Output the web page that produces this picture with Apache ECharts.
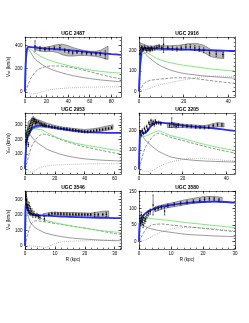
<!DOCTYPE html>
<html><head><meta charset="utf-8">
<script src="https://cdn.jsdelivr.net/npm/echarts@6/dist/echarts.min.js"></script>
<style>html,body{margin:0;padding:0;background:#fff}#c{width:249px;height:323px}</style>
</head><body><div id="c"></div>
<script>
// ---------------- DATA ----------------
// UGC 2487
const g1Name = 'UGC 2487';
const g1R     = [0, 0.5, 1, 2, 3, 5, 8, 12, 16, 20, 25, 30, 40, 50, 60, 70, 80, 89];
const g1Tot   = [0, 200, 300, 375, 390, 388, 385, 380, 377, 374, 372, 369, 361, 352, 343, 335, 327, 320];
const g1Disk  = [0, 120, 250, 350, 385, 372, 348, 320, 300, 284, 266, 252, 227, 207, 190, 177, 168, 162];
const g1Bulge = [0, 250, 330, 378, 375, 345, 300, 262, 235, 213, 192, 176, 150, 130, 115, 103, 94, 87];
const g1Halo  = [0, 3, 12, 38, 65, 110, 155, 192, 210, 220, 224, 224, 215, 198, 175, 150, 128, 112];
const g1Gas   = [0, 0, -2, -5, -8, -12, -17, -12, 0, 12, 20, 26, 33, 38, 40, 42, 43, 43];
const g1CyanR = [0, 0.3, 0.6, 1.0];
const g1CyanV = [0, 180, 300, 350];
const g1PtsR  = [9.3, 13.9, 18.5, 22.5, 27.2, 32.4, 36.8, 40.5, 44.2, 48.2, 52.8, 57.1, 61.5, 65.8, 69.8, 74.4];
const g1PtsV  = [397, 374, 368, 374, 379, 382, 359, 350, 338, 344, 338, 335, 329, 329, 329, 321];
const g1PtsE  = [45, 20, 15, 15, 15, 20, 15, 15, 12, 12, 12, 12, 12, 12, 15, 35];
const g1BandR = [9, 15, 20, 25, 30, 35, 40, 45, 50, 55, 60, 65, 70, 75, 77];
const g1BandLo= [365, 352, 350, 350, 340, 320, 310, 310, 315, 315, 312, 308, 298, 285, 280];
const g1BandHi= [395, 385, 388, 398, 410, 412, 400, 382, 368, 358, 352, 350, 360, 385, 395];
const g1XTicks = [0, 20, 40, 60, 80];
const g1YTicks = [0, 200, 400];

// UGC 2916
const g2Name = 'UGC 2916';
const g2R     = [0, 0.5, 1, 1.5, 2, 3, 5, 8, 12, 16, 20, 25, 30, 35, 40, 43];
const g2Tot   = [0, 120, 180, 200, 205, 210, 210, 209, 207, 206, 204, 202, 201, 199, 197, 196];
const g2Disk  = [0, 90, 150, 175, 185, 190, 180, 160, 145, 135, 127, 120, 112, 106, 101, 99];
const g2Bulge = [0, 150, 195, 200, 195, 180, 160, 135, 112, 97, 87, 80, 74, 70, 66, 64];
const g2Halo  = [0, 6, 15, 25, 35, 45, 53, 58, 62, 66, 66, 62, 55, 48, 42, 39];
const g2Gas   = [0, 1, 2, 3, 5, 8, 15, 28, 38, 47, 55, 65, 72, 74, 73, 72];
const g2CyanR = [0, 0.3, 0.6, 1.0];
const g2CyanV = [0, 110, 170, 190];
const g2PtsR  = [0.5, 0.8, 1.2, 1.6, 2.0, 2.5, 3.0, 3.5, 4.0, 4.5, 5.0, 5.5, 6.0, 7.0, 8.0, 9.0, 10.2, 11, 12.9, 15, 17, 18.9, 21, 23, 25, 27, 29, 31.6, 34.6, 37.6];
const g2PtsV  = [185, 205, 215, 210, 205, 215, 208, 200, 210, 205, 200, 212, 205, 210, 215, 220, 213, 229, 213, 210, 206, 211, 216, 216, 211, 206, 200, 187, 182, 179];
const g2PtsE  = [8, 8, 8, 8, 8, 8, 8, 8, 8, 8, 8, 8, 8, 8, 8, 8, 8, 40, 8, 10, 10, 10, 12, 12, 12, 12, 12, 12, 12, 12];
const g2BandR = [0.5, 2, 4, 6, 8, 10, 14, 18, 22, 26, 29, 32, 35, 38];
const g2BandLo= [195, 200, 198, 200, 202, 200, 200, 200, 203, 200, 190, 170, 162, 160];
const g2BandHi= [235, 230, 222, 220, 225, 222, 222, 225, 232, 233, 225, 205, 198, 196];
const g2XTicks = [0, 20, 40];
const g2YTicks = [0, 100, 200];

// UGC 2953
const g3Name = 'UGC 2953';
const g3R     = [0, 0.5, 1, 2, 3, 5, 8, 10, 12, 15, 20, 25, 30, 35, 40, 50, 60, 64.3];
const g3Tot   = [0, 100, 170, 225, 250, 278, 292, 295, 293, 289, 280, 272, 264, 258, 252, 247, 245, 245];
const g3Disk  = [0, 120, 200, 255, 270, 272, 270, 268, 262, 245, 220, 200, 185, 172, 162, 145, 128, 122];
const g3Bulge = [0, 180, 240, 255, 240, 210, 180, 165, 152, 132, 112, 96, 84, 75, 68, 60, 55, 53];
const g3Halo  = [0, 12, 30, 70, 110, 165, 210, 228, 236, 232, 215, 195, 178, 163, 150, 128, 108, 102];
const g3Gas   = [0, -5, -10, -15, -18, -20, -3, 8, 15, 20, 26, 28, 30, 31, 33, 35, 35, 35];
const g3CyanR = [0, 0.3, 0.6, 1.0];
const g3CyanV = [0, 120, 200, 240];
const g3PtsR  = [0.5, 0.8, 1.0, 1.3, 1.6, 2.0, 2.3, 2.7, 3.0, 3.4, 3.8, 4.2, 4.6, 5.0, 5.5, 6.0, 6.5, 7.0, 7.5, 8.0, 9.0, 10, 11, 12, 13, 14,
                 16, 18, 20, 22, 24, 26, 28, 30, 32, 34, 36, 38, 40, 42, 44, 46, 48, 50, 52, 54, 56, 58];
const g3PtsV  = [180, 230, 200, 250, 215, 270, 165, 240, 290, 260, 310, 280, 330, 300, 340, 320, 335, 310, 325, 315, 320, 310, 305, 300, 298, 295,
                 290, 285, 282, 278, 275, 272, 270, 268, 265, 262, 258, 255, 253, 252, 255, 258, 262, 265, 268, 272, 275, 280];
const g3PtsE  = [15, 15, 15, 15, 15, 15, 15, 15, 15, 15, 15, 15, 15, 15, 15, 12, 12, 12, 12, 10, 10, 10, 10, 10, 10, 10,
                 8, 8, 8, 8, 8, 8, 8, 8, 8, 8, 8, 8, 8, 8, 8, 8, 8, 8, 8, 8, 8, 8];
const g3BandR = [2, 5, 10, 15, 20, 25, 30, 35, 40, 45, 50, 55, 59];
const g3BandLo= [220, 270, 285, 280, 272, 265, 258, 250, 245, 248, 255, 262, 270];
const g3BandHi= [320, 345, 330, 310, 295, 285, 278, 272, 268, 272, 280, 292, 300];
const g3XTicks = [0, 20, 40, 60];
const g3YTicks = [0, 100, 200, 300];

// UGC 3205
const g4Name = 'UGC 3205';
const g4R     = [0, 0.3, 0.6, 1, 2, 3, 4, 5, 6, 7, 8, 9, 12, 15, 20, 25, 30, 35, 40, 44];
const g4Tot   = [0, 150, 195, 195, 185, 188, 200, 215, 228, 236, 240, 241, 238, 234, 226, 220, 216, 210, 203, 198];
const g4Disk  = [0, 90, 140, 165, 168, 171, 175, 180, 185, 190, 195, 197, 185, 172, 158, 143, 128, 115, 104, 96];
const g4Bulge = [0, 160, 185, 183, 165, 150, 138, 128, 118, 108, 100, 92, 75, 62, 52, 46, 42, 40, 38, 37];
const g4Halo  = [0, 10, 25, 40, 85, 115, 135, 150, 165, 175, 183, 185, 175, 163, 148, 133, 118, 104, 92, 83];
const g4Gas   = [0, -3, -6, -8, -10, -11, -12, -10, -8, -2, 5, 12, 28, 38, 50, 56, 55, 50, 45, 42];
const g4CyanR = [0, 0.2, 0.4, 0.6];
const g4CyanV = [0, 100, 170, 195];
const g4PtsR  = [0.5, 1, 1.5, 2, 2.5, 3, 3.5, 4, 4.5, 5, 5.5, 6, 6.5, 7, 7.5, 8, 9, 10,
                 14, 15, 16, 17, 18, 20, 22, 24, 26, 28, 30, 32, 34, 36, 38];
const g4PtsV  = [190, 175, 200, 185, 210, 195, 220, 205, 240, 230, 250, 235, 245, 230, 248, 238, 240, 235,
                 225, 240, 228, 222, 226, 224, 222, 221, 218, 216, 215, 217, 225, 230, 228];
const g4PtsE  = [8, 8, 8, 8, 8, 8, 8, 8, 8, 8, 8, 8, 8, 8, 8, 8, 8, 8,
                 10, 25, 10, 10, 10, 8, 8, 8, 8, 8, 8, 8, 8, 8, 8];
const g4BandR = [13, 16, 20, 25, 30, 33, 36, 39];
const g4BandLo= [215, 215, 215, 212, 210, 215, 220, 218];
const g4BandHi= [238, 240, 232, 228, 225, 232, 240, 238];
const g4XTicks = [0, 20, 40];
const g4YTicks = [0, 100, 200];

// UGC 3546
const g5Name = 'UGC 3546';
const g5R     = [0, 0.1, 0.2, 0.3, 0.5, 0.7, 1, 1.5, 2, 3, 4, 5, 6, 7, 8, 10, 12, 15, 20, 25, 30, 32.1];
const g5Tot   = [0, 200, 250, 270, 265, 248, 230, 212, 205, 200, 199, 198, 197, 196, 195, 192, 190, 188, 185, 182, 180, 179];
const g5Disk  = [0, 60, 110, 150, 200, 222, 235, 225, 215, 200, 190, 180, 172, 165, 160, 150, 142, 130, 115, 100, 90, 86];
const g5Bulge = [0, 150, 230, 250, 255, 235, 200, 165, 145, 125, 110, 100, 90, 82, 77, 68, 61, 52, 44, 38, 34, 33];
const g5Halo  = [0, 5, 12, 20, 40, 60, 80, 115, 140, 160, 162, 160, 157, 155, 152, 145, 140, 130, 115, 98, 80, 74];
const g5Gas   = [0, 0, 0, 0, 0, 0, 0, 0, 0, -2, -3, -5, -7, -10, -2, 15, 25, 30, 33, 35, 37, 37];
const g5CyanR = [0, 0.1, 0.2, 0.4];
const g5CyanV = [0, 180, 280, 300];
const g5PtsR  = [0.2, 0.3, 0.4, 0.5, 0.6, 0.8, 1.0, 1.2, 1.4, 1.6, 1.8, 2.0, 2.3, 2.6, 3.0, 3.5, 4.0, 4.5, 5.0, 6.5,
                 8, 9, 10, 11, 12, 13, 14, 15, 16, 17, 18, 19, 20, 21, 22, 23.3, 24.5, 26, 27.2];
const g5PtsV  = [300, 330, 320, 270, 290, 250, 265, 230, 260, 215, 240, 210, 225, 200, 210, 195, 200, 190, 185, 176,
                 205, 210, 210, 208, 207, 206, 206, 205, 205, 204, 204, 203, 203, 202, 202, 202, 202, 203, 204];
const g5PtsE  = [25, 25, 25, 25, 20, 20, 20, 20, 20, 15, 15, 15, 15, 15, 15, 12, 12, 12, 12, 15,
                 8, 8, 8, 8, 8, 8, 8, 8, 8, 8, 8, 8, 8, 8, 8, 14, 8, 8, 14];
const g5BandR = [6, 8, 10, 14, 18, 22, 24, 26, 28];
const g5BandLo= [190, 198, 200, 198, 195, 193, 190, 188, 188];
const g5BandHi= [208, 215, 218, 216, 214, 212, 218, 224, 226];
const g5XTicks = [0, 10, 20, 30];
const g5YTicks = [0, 100, 200, 300];

// UGC 3580
const g6Name = 'UGC 3580';
const g6R     = [0, 0.2, 0.4, 0.7, 1, 1.5, 2, 3, 4, 5, 7, 10, 13, 16, 20, 24, 27, 30];
const g6Tot   = [0, 55, 62, 68, 75, 80, 85, 92, 96, 100, 105, 110, 114, 117, 119, 120, 119, 117];
const g6Disk  = [0, 25, 45, 62, 68, 71, 71, 70, 69, 68, 66, 63, 59, 56, 52, 48, 45, 42];
const g6Bulge = [0, 55, 60, 57, 53, 48, 45, 41, 38, 36, 32, 28, 24, 21, 19, 17, 16, 15];
const g6Halo  = [0, 3, 7, 13, 20, 28, 35, 45, 50, 52, 53, 50, 47, 44, 40, 36, 33, 30];
const g6Gas   = [0, 0, 1, 2, 3, 4, 5, 10, 15, 20, 29, 38, 42, 43, 41, 38, 35, 33];
const g6CyanR = [0, 0.1, 0.2, 0.3];
const g6CyanV = [0, 30, 50, 58];
const g6PtsR  = [0.3, 0.5, 0.7, 0.9, 1.1, 1.3, 1.5, 1.8, 2.1, 2.5, 3.0, 3.5, 4.4, 8,
                 5, 6, 7, 9, 11, 13, 15, 17, 19, 20.5, 22, 23.5, 25];
const g6PtsV  = [70, 55, 80, 60, 65, 50, 72, 62, 68, 80, 85, 90, 110, 92,
                 97, 100, 103, 108, 112, 115, 118, 121, 124, 127, 129, 128, 125];
const g6PtsE  = [8, 8, 8, 8, 8, 8, 8, 8, 8, 8, 8, 8, 30, 12,
                 5, 5, 5, 5, 5, 5, 5, 5, 5, 5, 5, 5, 5];
const g6BandR = [5, 8, 11, 14, 17, 20, 23, 26];
const g6BandLo= [90, 100, 105, 110, 115, 118, 120, 118];
const g6BandHi= [105, 112, 118, 125, 130, 135, 136, 133];
const g6XTicks = [0, 10, 20, 30];
const g6YTicks = [0, 50, 100, 150];

// ---------------- LAYOUT / STYLE ----------------
const FONT = '"Liberation Sans", Arial, Helvetica, sans-serif';
const panels = [
  {t:g1Name, R:g1R, tot:g1Tot, disk:g1Disk, bulge:g1Bulge, halo:g1Halo, gas:g1Gas, cR:g1CyanR, cV:g1CyanV, pR:g1PtsR, pV:g1PtsV, pE:g1PtsE, bR:g1BandR, bLo:g1BandLo, bHi:g1BandHi, xT:g1XTicks, yT:g1YTicks,
   xr:[0,89], yr:[-45,475], xs:5, ys:50, box:{left:25, top:37, width:96, height:60}, yName:true, xName:false},
  {t:g2Name, R:g2R, tot:g2Tot, disk:g2Disk, bulge:g2Bulge, halo:g2Halo, gas:g2Gas, cR:g2CyanR, cV:g2CyanV, pR:g2PtsR, pV:g2PtsV, pE:g2PtsE, bR:g2BandR, bLo:g2BandLo, bHi:g2BandHi, xT:g2XTicks, yT:g2YTicks,
   xr:[0,43], yr:[-28,265], xs:5, ys:20, box:{left:139, top:37, width:96, height:60}, yName:false, xName:false},
  {t:g3Name, R:g3R, tot:g3Tot, disk:g3Disk, bulge:g3Bulge, halo:g3Halo, gas:g3Gas, cR:g3CyanR, cV:g3CyanV, pR:g3PtsR, pV:g3PtsV, pE:g3PtsE, bR:g3BandR, bLo:g3BandLo, bHi:g3BandHi, xT:g3XTicks, yT:g3YTicks,
   xr:[0,64.3], yr:[-35,380], xs:5, ys:20, box:{left:25, top:113, width:96, height:61}, yName:true, xName:false},
  {t:g4Name, R:g4R, tot:g4Tot, disk:g4Disk, bulge:g4Bulge, halo:g4Halo, gas:g4Gas, cR:g4CyanR, cV:g4CyanV, pR:g4PtsR, pV:g4PtsV, pE:g4PtsE, bR:g4BandR, bLo:g4BandLo, bHi:g4BandHi, xT:g4XTicks, yT:g4YTicks,
   xr:[0,44], yr:[-25,290], xs:5, ys:20, box:{left:139, top:113, width:96, height:61}, yName:false, xName:false},
  {t:g5Name, R:g5R, tot:g5Tot, disk:g5Disk, bulge:g5Bulge, halo:g5Halo, gas:g5Gas, cR:g5CyanR, cV:g5CyanV, pR:g5PtsR, pV:g5PtsV, pE:g5PtsE, bR:g5BandR, bLo:g5BandLo, bHi:g5BandHi, xT:g5XTicks, yT:g5YTicks,
   xr:[0,32.1], yr:[-20,355], xs:2, ys:20, box:{left:25, top:191, width:96, height:58}, yName:true, xName:true},
  {t:g6Name, R:g6R, tot:g6Tot, disk:g6Disk, bulge:g6Bulge, halo:g6Halo, gas:g6Gas, cR:g6CyanR, cV:g6CyanV, pR:g6PtsR, pV:g6PtsV, pE:g6PtsE, bR:g6BandR, bLo:g6BandLo, bHi:g6BandHi, xT:g6XTicks, yT:g6YTicks,
   xr:[0,30], yr:[-22,152], xs:2, ys:10, box:{left:139, top:191, width:96, height:58}, yName:false, xName:true},
];

function steps(min, max, st) {
  const out = [];
  for (let v = Math.ceil(min / st) * st; v <= max + 1e-9; v += st) out.push(+v.toFixed(6));
  return out;
}
const AX = {color:'#000', width:0.6};
function axisSet(gi, dim, p) {
  const rng = dim === 'x' ? p.xr : p.yr;
  const maj = dim === 'x' ? p.xT : p.yT;
  const mnr = steps(rng[0], rng[1], dim === 'x' ? p.xs : p.ys);
  const pos = dim === 'x' ? ['bottom', 'top'] : ['left', 'right'];
  const base = {type:'value', gridIndex:gi, min:rng[0], max:rng[1], splitLine:{show:false}, silent:true};
  const list = [];
  // main labelled axis
  const main = Object.assign({}, base, {
    position: pos[0],
    axisLine:{show:true, onZero:false, lineStyle:AX},
    axisTick:{show:true, inside:true, length:2.6, customValues:maj, lineStyle:AX},
    axisLabel:{show:true, customValues:maj, fontSize:4.5, fontFamily:FONT, color:'#000', margin:2.5, formatter:(v)=>String(v)}
  });
  if (dim === 'x' && p.xName) {
    Object.assign(main, {name:'R (kpc)', nameLocation:'middle', nameGap:8, nameTextStyle:{fontSize:4.5, fontFamily:FONT, color:'#000'}});
  }
  if (dim === 'y' && p.yName) {
    Object.assign(main, {name:'{a|V}{s|rot}{a| (km/s)}', nameLocation:'middle', nameRotate:90, nameGap:12,
      nameTextStyle:{fontSize:4.5, fontFamily:FONT, color:'#000', rich:{a:{fontSize:4.5, fontFamily:FONT, color:'#000'}, s:{fontSize:3, fontFamily:FONT, color:'#000', padding:[2,0,0,0]}}}});
  }
  list.push(main);
  list.push(Object.assign({}, base, {position:pos[1], axisLine:{show:true, onZero:false, lineStyle:AX},
    axisTick:{show:true, inside:true, length:2.6, customValues:maj, lineStyle:AX}, axisLabel:{show:false}}));
  list.push(Object.assign({}, base, {position:pos[0], axisLine:{show:false, onZero:false},
    axisTick:{show:true, inside:true, length:1.3, customValues:mnr, lineStyle:AX}, axisLabel:{show:false}}));
  list.push(Object.assign({}, base, {position:pos[1], axisLine:{show:false, onZero:false},
    axisTick:{show:true, inside:true, length:1.3, customValues:mnr, lineStyle:AX}, axisLabel:{show:false}}));
  return list;
}

const xAxes = [], yAxes = [], grids = [], series = [], graphics = [];
panels.forEach((p, gi) => {
  grids.push(Object.assign({containLabel:false}, p.box));
  xAxes.push(...axisSet(gi, 'x', p));
  yAxes.push(...axisSet(gi, 'y', p));
  const ai = gi * 4;
  const pair = (R, V) => R.map((r, i) => [r, V[i]]);
  const line = (R, V, ls, z) => ({type:'line', xAxisIndex:ai, yAxisIndex:ai, data:pair(R, V), symbol:'none', showSymbol:false,
    smooth:0.3, lineStyle:ls, z:z, silent:true, animation:false, clip:true});
  // band
  series.push({type:'custom', xAxisIndex:ai, yAxisIndex:ai, z:1, clip:true, animation:false, silent:true,
    data:p.bR.map((r, i) => [r, p.bLo[i], p.bHi[i]]), encode:{x:0, y:[1, 2]},
    renderItem:(params, api) => {
      if (params.dataIndex !== 0) return null;
      const pts = [];
      for (let i = 0; i < p.bR.length; i++) pts.push(api.coord([p.bR[i], p.bHi[i]]));
      for (let i = p.bR.length - 1; i >= 0; i--) pts.push(api.coord([p.bR[i], p.bLo[i]]));
      return {type:'polygon', shape:{points:pts}, style:{fill:'#bdbdbd', stroke:'#444', lineWidth:0.5}};
    }});
  series.push(line(p.R, p.gas,   {color:'#8a8a8a', width:0.7, type:[0.8, 1.2]}, 2));
  series.push(line(p.R, p.halo,  {color:'#666', width:0.7, type:[3, 1.5]}, 2));
  series.push(line(p.R, p.bulge, {color:'#707070', width:0.7}, 2));
  series.push(line(p.R, p.disk,  {color:'#6ee66e', width:0.9}, 3));
  series.push(line(p.cR, p.cV,   {color:'#22a8a8', width:0.9}, 3));
  series.push(line(p.R, p.tot,   {color:'#2b2bf0', width:1.8}, 4));
  // data points with error bars
  series.push({type:'custom', xAxisIndex:ai, yAxisIndex:ai, z:6, clip:true, animation:false, silent:true,
    data:p.pR.map((r, i) => [r, p.pV[i], p.pE[i]]), encode:{x:0, y:1},
    renderItem:(params, api) => {
      const x = api.value(0), v = api.value(1), e = api.value(2);
      const c = api.coord([x, v]), a = api.coord([x, v + e]), b = api.coord([x, v - e]);
      const st = {stroke:'#000', lineWidth:0.5};
      return {type:'group', children:[
        {type:'line', shape:{x1:c[0], y1:a[1], x2:c[0], y2:b[1]}, style:st},
        {type:'line', shape:{x1:c[0]-0.8, y1:a[1], x2:c[0]+0.8, y2:a[1]}, style:st},
        {type:'line', shape:{x1:c[0]-0.8, y1:b[1], x2:c[0]+0.8, y2:b[1]}, style:st},
        {type:'circle', shape:{cx:c[0], cy:c[1], r:0.8}, style:{fill:'#000'}}
      ]};
    }});
  graphics.push({type:'text', x:p.box.left + p.box.width / 2, y:p.box.top - 3.5, silent:true,
    style:{text:p.t, font:'bold 5px ' + FONT, align:'center', verticalAlign:'middle', fill:'#000'}});
});

const chart = echarts.init(document.getElementById('c'), null, {renderer:'canvas', width:249, height:323});
chart.setOption({
  animation:false,
  backgroundColor:'#fff',
  grid:grids, xAxis:xAxes, yAxis:yAxes, series:series, graphic:graphics
});
</script></body></html>
